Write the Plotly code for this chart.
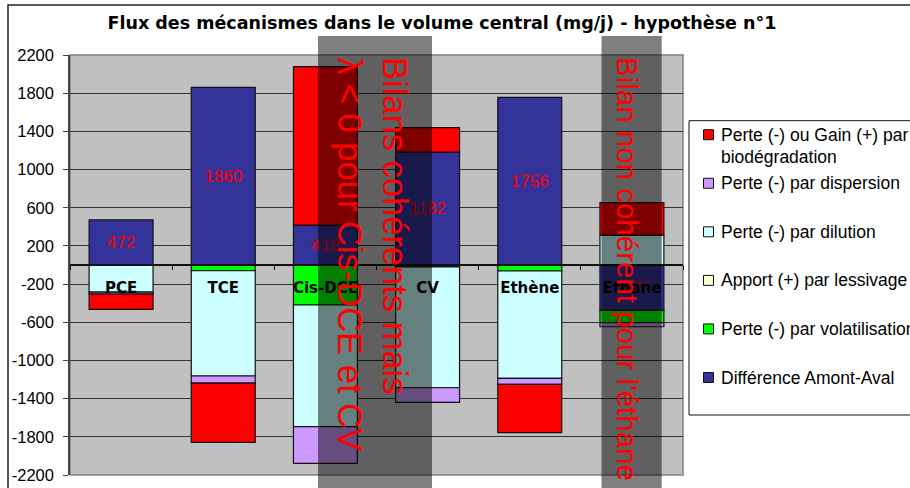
import plotly.graph_objects as go

# ---- data -------------------------------------------------------------
categories = ["PCE", "TCE", "Cis-DCE", "CV", "Ethène", "Ethane"]

difference_amont_aval = [472, 1860, 418, 1182, 1756, -475]
perte_volatilisation = [None, -60, -419, -20, -63, -130]
apport_lessivage = [0, 0, 0, 0, 0, 0]
perte_dilution = [-285, -1103, -1275, -1266, -1125, 314]
perte_dispersion = [-20, -74, -384, -153, -62, -42]
biodegradation = [-160, -621, 1660, 257, -507, 339]

series_names = [
    "Différence Amont-Aval",
    "Perte (-) par volatilisation",
    "Apport (+) par lessivage",
    "Perte (-) par dilution",
    "Perte (-) par dispersion",
    "Perte (-) ou Gain (+) par<br>biodégradation",
]
series_values = [
    difference_amont_aval,
    perte_volatilisation,
    apport_lessivage,
    perte_dilution,
    perte_dispersion,
    biodegradation,
]
series_colors = ["#333399", "#00FF00", "#FFFFCC", "#CCFFFF", "#CC99FF", "#FF0000"]

y_ticks = list(range(-2200, 2201, 400))

title_text = "Flux des mécanismes dans le volume central (mg/j) - hypothèse n°1"
note_coherent = "Bilans cohérents mais<br>λ &lt; 0 pour Cis-DCE et CV"
note_non_coherent = "Bilan non cohérent pour l'éthane"

# ---- geometry helpers (pixel -> paper) --------------------------------
W, H = 910, 488
L, R, T, B = 70, 227, 55, 13
PW, PH = W - L - R, H - T - B


def px(x):
    return (x - L) / PW


def py(y):
    return (H - B - y) / PH


fig = go.Figure()

for name, vals, col in zip(series_names, series_values, series_colors):
    is_diff = name == series_names[0]
    fig.add_trace(
        go.Bar(
            x=categories,
            y=vals,
            name=name,
            marker=dict(
                color=col,
                line=dict(color="#111111", width=0 if name == series_names[2] else 1.2),
            ),
            text=vals if is_diff else None,
            texttemplate="%{y}" if is_diff else None,
            textposition="inside" if is_diff else "none",
            insidetextanchor="middle",
            textangle=0,
            constraintext="none",
            textfont=dict(family="Liberation Sans, Arial", size=17, color="#FF0000"),
            showlegend=False,
        )
    )

shapes = []
# outer chart frame
shapes.append(dict(type="rect", xref="paper", yref="paper",
                   x0=px(8), x1=px(960), y0=py(540), y1=py(5),
                   line=dict(color="#222222", width=1.5), layer="above"))
# plot-area border
shapes.append(dict(type="rect", xref="paper", yref="paper",
                   x0=0, x1=1, y0=0, y1=1,
                   line=dict(color="#808080", width=1.5), layer="below"))
# legend box
shapes.append(dict(type="rect", xref="paper", yref="paper",
                   x0=px(689), x1=px(960), y0=py(415), y1=py(120.7),
                   line=dict(color="#111111", width=1), fillcolor="white", layer="above"))
# dark translucent bands
for x0, x1 in [(318, 432), (601.5, 661.7)]:
    shapes.append(dict(type="rect", xref="paper", yref="paper",
                       x0=px(x0), x1=px(x1), y0=py(500), y1=py(36),
                       line=dict(width=0), fillcolor="rgba(0,0,0,0.5)", layer="above"))

annotations = []
# legend entries (top to bottom: reverse of stacking order)
leg_y0, leg_step = 134.7, 48.56
for k, (name, col) in enumerate(zip(series_names[::-1], series_colors[::-1])):
    yc = leg_y0 + k * leg_step
    shapes.append(dict(type="rect", xref="paper", yref="paper",
                       x0=px(703.5), x1=px(713.5), y0=py(yc + 5), y1=py(yc - 5),
                       line=dict(color="#111111", width=1), fillcolor=col, layer="above"))
    for j, line in enumerate(name.split("<br>")):
        annotations.append(dict(xref="paper", yref="paper", x=px(719), y=py(yc + 22 * j),
                                xanchor="left", yanchor="middle", text=line, showarrow=False,
                                font=dict(family="Liberation Sans, Arial", size=17.5, color="#000000")))

# rotated notes
annotations.append(dict(xref="paper", yref="paper", x=px(373), y=py(55),
                        xanchor="center", yanchor="top", text=note_coherent, showarrow=False,
                        textangle=90, align="left",
                        font=dict(family="Liberation Sans, Arial", size=34.5, color="#FF0000")))
annotations.append(dict(xref="paper", yref="paper", x=px(628), y=py(55),
                        xanchor="center", yanchor="top", text=note_non_coherent, showarrow=False,
                        textangle=90, align="left",
                        font=dict(family="Liberation Sans, Arial", size=29.5, color="#FF0000")))

fig.update_layout(
    width=W, height=H,
    margin=dict(l=L, r=R, t=T, b=B, pad=0, autoexpand=False),
    paper_bgcolor="white",
    plot_bgcolor="#C0C0C0",
    barmode="relative",
    bargap=0.374,
    showlegend=False,
    title=dict(text=title_text, x=442 / W, xanchor="center", y=1 - 23 / H, yanchor="middle",
               xref="container", yref="container", automargin=False,
               font=dict(family="DejaVu Sans", size=17.5, color="#000000", weight="bold")),
    shapes=shapes,
    annotations=annotations,
)

fig.update_xaxes(
    anchor="free", position=0.5, automargin=False,
    showline=True, linecolor="#111111", linewidth=1.5,
    ticks="outside", tickson="boundaries", ticklen=4, tickcolor="#111111",
    tickfont=dict(family="DejaVu Sans", size=15, color="#000000", weight="bold"),
    ticklabelstandoff=9,
    showgrid=False, zeroline=False, layer="above traces",
)
fig.update_yaxes(
    range=[-2200, 2200], tickvals=y_ticks, ticktext=[str(v) for v in y_ticks],
    automargin=False,
    showline=True, linecolor="#444444", linewidth=1.5,
    ticks="outside", ticklen=5, tickcolor="#444444",
    tickfont=dict(family="Liberation Sans, Arial", size=16.5, color="#000000"),
    showgrid=True, gridcolor="#333333", gridwidth=1, zeroline=False,
    ticklabelstandoff=6,
)

fig.write_html("out.html")
